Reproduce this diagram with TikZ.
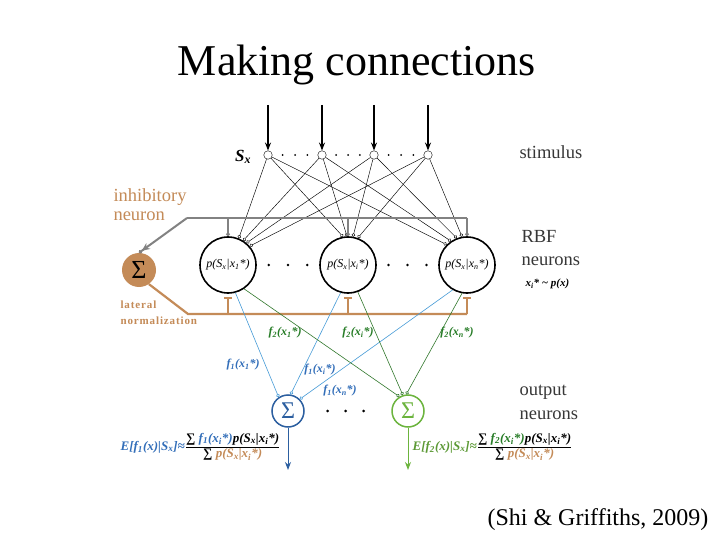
\documentclass[tikz,border=0pt]{standalone}
\usepackage{fontspec}
\setmainfont{Liberation Serif}
\usetikzlibrary{arrows.meta,positioning,calc}

\definecolor{inhbrown}{RGB}{196,139,88}
\definecolor{outblue}{RGB}{44,95,160}
\definecolor{lineblue}{RGB}{70,155,215}
\definecolor{labblue}{RGB}{50,110,185}
\definecolor{outgreen}{RGB}{108,180,62}
\definecolor{linegreen}{RGB}{50,120,45}
\definecolor{labgreen}{RGB}{40,125,40}
\definecolor{conngray}{RGB}{130,130,130}
\definecolor{labgray}{RGB}{55,55,55}

\newcommand\psx[1]{p(S\textsubscript{x}|x\textsubscript{#1}*)}
\newcommand\fx[2]{f\textsubscript{#1}(x\textsubscript{#2}*)}

\begin{document}
\begin{tikzpicture}[x=1pt,y=-1pt,
    stim/.style={circle,draw,fill=white,inner sep=0pt,minimum size=8.5pt,line width=0.4pt},
    rbf/.style={circle,draw,line width=1.6pt,inner sep=0pt,minimum size=56pt,
      font=\fontsize{12}{12}\selectfont\itshape},
    outn/.style={circle,draw,line width=1.5pt,inner sep=0pt,minimum size=32pt,
      font=\fontsize{24}{24}\selectfont},
    syn/.style={-{Circle[open,length=3.5pt,width=3.5pt]}},
    stimline/.style={syn,line width=0.45pt},
    input/.style={-{Stealth[length=8pt,width=6pt]},line width=1.2pt},
    grayconn/.style={conngray,line width=2pt},
    brownconn/.style={inhbrown,line width=2.2pt},
    blueconn/.style={syn,lineblue,line width=0.6pt},
    greenconn/.style={syn,linegreen,line width=0.6pt},
    flabel/.style={font=\fontsize{12}{12}\selectfont\bfseries\itshape},
    sidelabel/.style={anchor=west,text=labgray,font=\fontsize{18.5}{18.5}\selectfont}]

    \useasboundingbox[fill=white] (0,0) rectangle (720,540);

    % Title and source
    \node[font=\fontsize{44}{44}\selectfont] (title) at (357,65) {Making connections};
    \node[font=\fontsize{24}{24}\selectfont] (cite) at (598,520) {(Shi \& Griffiths, 2009)};

    % Stimulus layer
    \node[stim] (s1) at (268,155) {};
    \node[stim] (s2) at (322,155) {};
    \node[stim] (s3) at (374,155) {};
    \node[stim] (s4) at (428,155) {};
    \foreach \i in {1,...,4} {
        \coordinate (in\i) at ($(s\i)+(0,-50)$);
        \draw[input] (in\i) -- (s\i);
    }
    \foreach \a/\b in {s1/s2,s2/s3,s3/s4}
        \foreach \k in {0.27,0.5,0.73}
            \fill ($(\a)!\k!(\b)$) circle (1pt);
    \node[font=\fontsize{17}{17}\selectfont\bfseries\itshape] (sx) at (243,157) {S\textsubscript{x}};
    \node[sidelabel] (stimlab) at (516,152) {stimulus};

    % RBF neurons
    \node[rbf] (r1) at (228,265) {\psx{1}};
    \node[rbf] (r2) at (348,265) {\psx{i}};
    \node[rbf] (r3) at (467,265) {\psx{n}};
    \foreach \k in {0.34,0.5,0.66} {
        \fill ($(r1)!\k!(r2)$) circle (1.4pt);
        \fill ($(r2)!\k!(r3)$) circle (1.4pt);
    }
    \node[sidelabel] (rbflab) at (518,236) {RBF};
    \node[sidelabel] (neulab) at (518,261) {neurons};
    \node[anchor=west,font=\fontsize{11}{11}\selectfont\bfseries\itshape] (prior) at (522,284) {x\textsubscript{i}* \textasciitilde{} p(x)};

    % Stimulus to RBF connections
    \foreach \s/\a in {s1/68,s2/58,s3/50,s4/41}
        \draw[stimline] (\s) -- (r1.\a);
    \foreach \s/\a in {s1/100,s2/92,s3/80,s4/70}
        \draw[stimline] (\s) -- (r2.\a);
    \foreach \s/\a in {s1/135,s2/124,s3/111,s4/100}
        \draw[stimline] (\s) -- (r3.\a);

    % Inhibitory neuron
    \node[circle,fill=inhbrown,inner sep=0pt,minimum size=34pt,
          font=\fontsize{26}{26}\selectfont] (inh) at (139,270) {Σ};
    \node[anchor=west,text=inhbrown,font=\fontsize{18.5}{18.5}\selectfont] (inhlab) at (110,197) {inhibitory};
    \node[anchor=west,text=inhbrown,font=\fontsize{18.5}{18.5}\selectfont] (neuronlab) at (110,216) {neuron};

    % Gray feed to the inhibitory neuron
    \coordinate (gl) at (187,218);
    \draw[grayconn] (gl) -- (r3 |- gl);
    \foreach \r in {r1,r2,r3}
        \draw[grayconn,syn] (\r |- gl) -- ++(0,18);
    \draw[grayconn,-{Stealth[length=8pt,width=7pt] Circle[open,length=3.5pt,width=3.5pt]}] (gl) -- (inh.north);

    % Lateral normalization
    \coordinate (bl) at (188,314);
    \draw[brownconn] (inh.-55) -- (bl) -- (r3 |- bl);
    \foreach \r in {r1,r2,r3}
        \draw[brownconn,-{Bar[width=8pt]}] (\r |- bl) -- ++(0,-17);
    \node[anchor=west,text=inhbrown,font=\fontsize{11}{11}\selectfont\bfseries\addfontfeature{LetterSpace=8}] (latlab) at (117,305) {lateral};
    \node[anchor=west,text=inhbrown,font=\fontsize{11}{11}\selectfont\bfseries\addfontfeature{LetterSpace=8}] (normlab) at (117,321) {normalization};

    % Output neurons
    \node[outn,draw=outblue,text=outblue] (o1) at (288,411) {Σ};
    \node[outn,draw=outgreen,text=outgreen] (o2) at (408,411) {Σ};
    \foreach \k in {0.33,0.48,0.63}
        \fill ($(o1)!\k!(o2)$) circle (1.4pt);
    \node[sidelabel] (outlab) at (516,392) {output};
    \node[sidelabel] (outneulab) at (516,415) {neurons};

    % RBF to output connections
    \draw[blueconn] (r1.-75) -- (o1.124);
    \draw[blueconn] (r2.-105) -- (o1.81);
    \draw[blueconn] (r3.-120) -- (o1.45);
    \draw[greenconn] (r1.-56) -- (o2.121);
    \draw[greenconn] (r2.-70) -- (o2.108);
    \draw[greenconn] (r3.-100) -- (o2.96);

    % Weight labels
    \node[flabel,text=labgreen] (w21) at (285,333) {\fx{2}{1}};
    \node[flabel,text=labgreen] (w2i) at (358,333) {\fx{2}{i}};
    \node[flabel,text=labgreen] (w2n) at (457,333) {\fx{2}{n}};
    \node[flabel,text=labblue] (w11) at (243,365) {\fx{1}{1}};
    \node[flabel,text=labblue] (w1i) at (320,370) {\fx{1}{i}};
    \node[flabel,text=labblue] (w1n) at (340,391) {\fx{1}{n}};

    % Outputs
    \coordinate (ob1) at (288,470);
    \coordinate (ob2) at (408,470);
    \draw[outblue,line width=1pt,-{Stealth[length=8pt,width=6pt]}] (o1) -- (ob1);
    \draw[outgreen,line width=1pt,-{Stealth[length=8pt,width=6pt]}] (o2) -- (ob2);

    % Estimates
    \setlength{\arrayrulewidth}{0.9pt}
    \node[anchor=west,inner sep=0pt,font=\fontsize{13}{15}\selectfont\bfseries\itshape] (fblue) at (186,447)
        {\begin{tabular}{@{}c@{}}∑ \textcolor{labblue}{\fx{1}{i}}\psx{i}\\\hline ∑ \textcolor{inhbrown}{\psx{i}}\end{tabular}};
    \node[left=1pt of fblue,inner sep=0pt,text=labblue,font=\fontsize{13}{13}\selectfont\bfseries\itshape] (eblue)
        {E[f\textsubscript{1}(x)|S\textsubscript{x}]≈};
    \node[anchor=west,inner sep=0pt,font=\fontsize{13}{15}\selectfont\bfseries\itshape] (fgreen) at (478,447)
        {\begin{tabular}{@{}c@{}}∑ \textcolor{labgreen}{\fx{2}{i}}\psx{i}\\\hline ∑ \textcolor{inhbrown}{\psx{i}}\end{tabular}};
    \node[left=1pt of fgreen,inner sep=0pt,text=outgreen!85!black,font=\fontsize{13}{13}\selectfont\bfseries\itshape] (egreen)
        {E[f\textsubscript{2}(x)|S\textsubscript{x}]≈};
\end{tikzpicture}
\end{document}
